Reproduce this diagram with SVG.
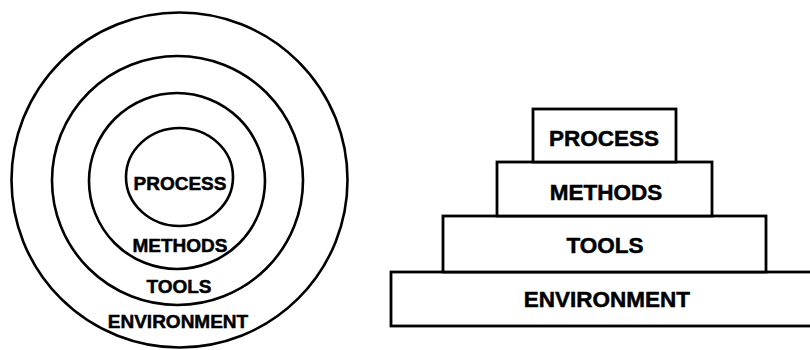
<svg xmlns="http://www.w3.org/2000/svg" width="810" height="350" viewBox="0 0 810 350">
<style>
.ring{fill:none;stroke:#000;stroke-width:2.6}
.box{fill:#fff;stroke:#000;stroke-width:2.8}
.t{font-family:"Liberation Sans",Arial,sans-serif;font-weight:bold;fill:#000;stroke:#000;stroke-width:0.5;text-anchor:middle}
.s{font-size:19px}
.b{font-size:22.5px}
</style>
<rect width="810" height="350" fill="#fff"/>
<g id="rings">
<g id="ring-environment"><ellipse class="ring" cx="179.5" cy="180" rx="168" ry="167.5"/><text class="t s" x="178" y="328">ENVIRONMENT</text></g>
<g id="ring-tools"><ellipse class="ring" cx="177.5" cy="180.5" rx="125.5" ry="124.5"/><text class="t s" x="179" y="293">TOOLS</text></g>
<g id="ring-methods"><ellipse class="ring" cx="177" cy="181" rx="88" ry="88"/><text class="t s" x="180" y="252">METHODS</text></g>
<g id="ring-process"><ellipse class="ring" cx="179.5" cy="177" rx="53.5" ry="49"/><text class="t s" x="180" y="190">PROCESS</text></g>
</g>
<g id="pyramid">
<g id="layer-environment"><rect class="box" x="391" y="272" width="430" height="54"/><text class="t b" x="607" y="307">ENVIRONMENT</text></g>
<g id="layer-tools"><rect class="box" x="443" y="216" width="323" height="56"/><text class="t b" x="605" y="253">TOOLS</text></g>
<g id="layer-methods"><rect class="box" x="497" y="162" width="215" height="54"/><text class="t b" x="606" y="200">METHODS</text></g>
<g id="layer-process"><rect class="box" x="533" y="109" width="143" height="53"/><text class="t b" x="604" y="146">PROCESS</text></g>
</g>
</svg>
